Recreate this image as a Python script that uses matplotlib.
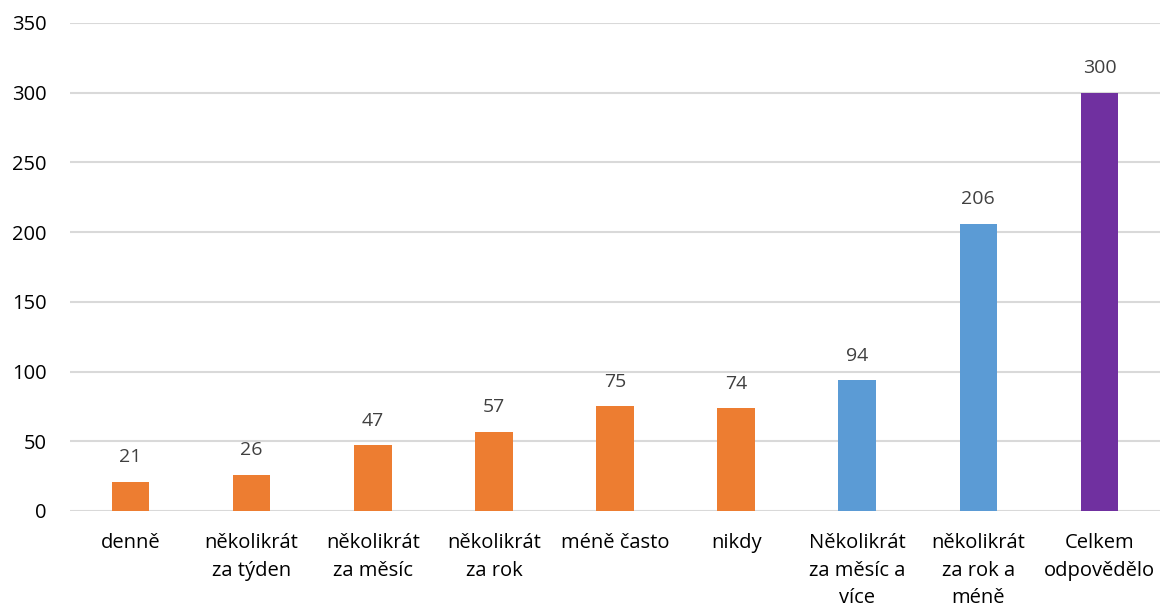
import matplotlib
matplotlib.use("Agg")
import matplotlib.pyplot as plt
import numpy as np

# data
categories = [
    "denně",
    "několikrát\nza týden",
    "několikrát\nza měsíc",
    "několikrát\nza rok",
    "méně často",
    "nikdy",
    "Několikrát\nza měsíc a\nvíce",
    "několikrát\nza rok a\nméně",
    "Celkem\nodpovědělo",
]
values = [21, 26, 47, 57, 75, 74, 94, 206, 300]
groups = ["o", "o", "o", "o", "o", "o", "b", "b", "p"]
y_ticks = [0, 50, 100, 150, 200, 250, 300, 350]

COLORS = {"o": "#ED7D31", "b": "#5B9BD5", "p": "#7030A0"}

plt.rcParams["font.family"] = ["Open Sans", "DejaVu Sans"]

fig = plt.figure(figsize=(11.6, 6.1), dpi=100)
ax = fig.add_axes([70 / 1160, (610 - 511) / 610, 1090 / 1160, 488 / 610])

x = np.arange(len(categories))
bars = ax.bar(x, values, width=0.31,
              color=[COLORS[g] for g in groups], zorder=3)

for xi, v in zip(x, values):
    ax.annotate(str(v), (xi, v), xytext=(0, 11), textcoords="offset points",
                ha="center", va="bottom", fontsize=14, color="#404040")

ax.set_xlim(-0.5, len(categories) - 0.5)
ax.set_ylim(0, 350)
ax.set_yticks(y_ticks)
ax.set_xticks(x)
ax.set_xticklabels(categories, fontsize=14.5, color="#000000", linespacing=1.5)
ax.tick_params(axis="y", labelsize=14.5, colors="#000000", length=0, pad=17)
ax.tick_params(axis="x", length=0, pad=16)

ax.yaxis.grid(True, color="#D9D9D9", linewidth=1.5, zorder=0)
ax.set_axisbelow(True)
for s in ax.spines.values():
    s.set_visible(False)

fig.savefig("out.png", dpi=100)
plt.close(fig)
